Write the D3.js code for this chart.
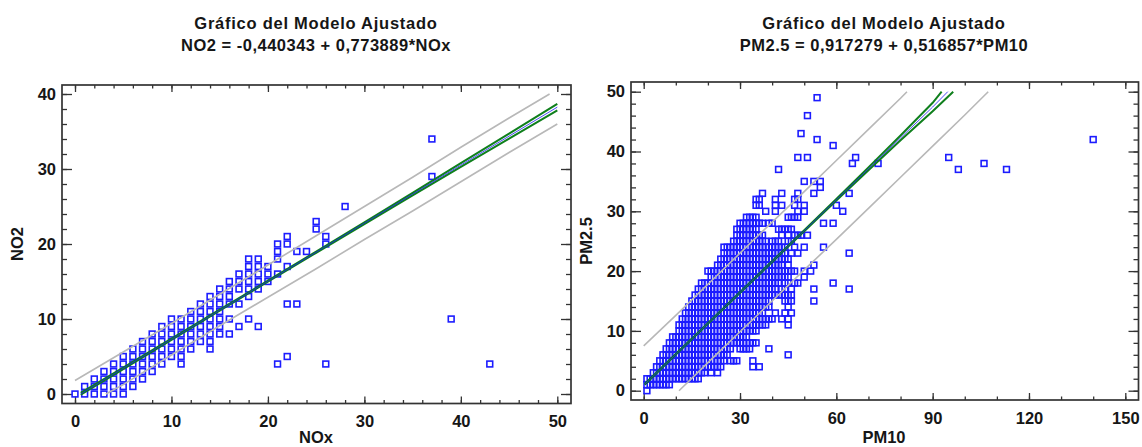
<!DOCTYPE html>
<html><head><meta charset="utf-8">
<script src="https://cdn.jsdelivr.net/npm/d3@7/dist/d3.min.js"></script>
<style>html,body{margin:0;background:#fff}svg{display:block}text{font-family:"Liberation Sans",Arial,sans-serif;font-weight:bold;fill:#161616}</style>
</head><body><svg id="c" width="1142" height="447"></svg>
<script>
const no2Title=["Gráfico del Modelo Ajustado","NO2 = -0,440343 + 0,773889*NOx"];
const pmTitle=["Gráfico del Modelo Ajustado","PM2.5 = 0,917279 + 0,516857*PM10"];

// [NOx, list of NO2 values]
const no2Columns=[[0,[0]],[1,[0,1]],[2,[0,1,2]],[3,[0,1,2,3]],[4,[0,1,2,3,4]],[5,[0,1,2,3,4,5]],
[6,[1,2,3,4,5,6]],[7,[2,3,4,5,6,7]],[8,[3,4,5,6,7,8]],[9,[4,5,6,7,8,9]],[10,[5,6,7,8,9,10]],
[11,[4,5,6,7,8,9,10]],[12,[6,7,8,9,10,11]],[13,[7,8,9,10,11,12]],[14,[6,7,8,9,10,11,12,13]],
[15,[8,9,10,11,12,13,14]],[16,[8,10,12,13,14,15]],[17,[9,12,14,15,16]],[18,[10,13,14,15,16,17,18]],
[19,[9,14,15,16,17,18]],[20,[15,16,17]],[21,[4,16,18,19,20]],[22,[5,12,17,20,21]],[23,[12,19]],[24,[19]],
[25,[22,23]],[26,[4,20,21]],[28,[25]],[37,[29,34]],[39,[10]],[43,[4]]];

const no2FitX=[0.6,5,10,15,20,25,30,35,40,45,50];
const no2Fit=[0.02,3.43,7.30,11.17,15.04,18.91,22.78,26.65,30.52,34.38,38.25];
const no2ConfHiX=no2FitX, no2ConfLoX=no2FitX;
const no2ConfHi=[0.14,3.53,7.38,11.24,15.11,18.99,22.90,26.82,30.77,34.71,38.67];
const no2ConfLo=[-0.10,3.33,7.22,11.10,14.97,18.83,22.66,26.48,30.27,34.05,37.83];
const no2PredHiX=[0,5,10,15,20,25,30,35,40,45,49.2];
const no2PredHi=[1.8,5.6,9.4,13.3,17.2,21.1,25,28.9,32.9,36.8,40];
const no2PredLoX=[3.2,5,10,15,20,25,30,35,40,45,50];
const no2PredLo=[0,1.25,5.2,9.1,12.9,16.7,20.6,24.4,28.3,32.2,36];

// [PM10, list of PM2.5 values]
const pmColumns=[[1,[0,1,2]],[2,[1,2]],[3,[1,2,3]],[4,[1,2,3,4]],[5,[1,2,3,4,5]],[6,[1,2,3,4,5,6]],
[7,[1,2,3,4,5,6,7]],[8,[1,2,3,4,5,6,7,8]],[9,[2,3,4,5,6,7,8,9]],[10,[2,3,4,5,6,7,8,9]],
[11,[2,3,4,5,6,7,8,9,10,11]],[12,[2,3,4,5,6,7,8,9,10,11,12]],[13,[2,3,4,5,6,7,8,9,10,11,12,13]],
[14,[2,3,4,5,6,7,8,9,10,11,12,13,14]],[15,[2,3,4,5,6,7,8,9,10,11,12,13,14,15]],
[16,[2,3,4,5,6,7,8,9,10,11,12,13,14,15,16]],[17,[2,3,4,5,6,7,8,9,10,11,12,13,14,15,16,17]],
[18,[3,4,5,6,7,8,9,10,11,12,13,14,15,16,17,18]],[19,[3,4,5,6,7,8,9,10,11,12,13,14,15,16,17,18]],
[20,[4,5,6,7,8,9,10,11,12,13,14,15,16,17,18,20]],[21,[3,4,5,6,7,8,9,10,11,12,13,14,15,16,17,18,19,20]],
[22,[4,5,6,7,8,9,10,11,12,13,14,15,16,17,18,19,20]],[23,[3,4,5,6,7,8,9,10,11,12,13,14,15,16,17,18,19,20,21]],
[24,[4,5,6,7,8,9,10,11,12,13,14,15,16,17,18,19,20,21,22]],
[25,[5,6,7,8,9,10,11,12,13,14,15,16,17,18,19,20,21,22,23,24]],
[26,[6,7,8,9,10,11,12,13,14,15,16,17,18,19,20,21,22,23,24]],
[27,[5,7,8,9,10,11,12,13,14,15,16,17,18,19,20,21,22,23,24]],
[28,[5,8,9,10,11,12,13,14,15,16,17,18,19,20,21,22,23,24,25]],
[29,[5,8,9,10,11,12,13,14,15,16,17,18,19,20,21,22,23,24,25,26,27]],
[30,[7,8,9,10,11,12,13,14,15,16,17,18,19,20,21,22,23,24,25,26,27,28]],
[31,[7,8,9,10,11,12,13,14,15,16,17,18,19,20,21,22,23,24,25,26,27,28]],
[32,[7,8,9,10,11,12,13,14,15,16,17,18,19,20,21,22,23,24,25,26,27,28,29]],
[33,[7,8,10,11,12,13,14,15,16,17,18,19,20,21,22,23,24,25,26,27,28,29]],
[34,[4,5,8,10,11,12,13,14,15,16,17,18,19,20,21,22,23,24,25,26,27,28,29]],
[35,[8,10,11,12,13,14,15,16,17,18,19,20,21,22,23,24,25,26,27,28,29,31,32]],
[36,[4,11,12,13,14,15,16,17,18,19,20,21,22,23,24,25,26,28,31,32]],
[37,[11,12,13,14,15,16,17,18,19,20,21,22,23,24,25,26,28,33]],
[38,[11,12,14,15,16,17,18,19,20,21,22,23,24,25,30]],
[39,[7,12,14,15,16,17,18,19,20,21,22,23,24,28]],
[40,[12,16,17,18,19,20,21,22,23,24,25,28]],
[41,[13,16,17,18,19,20,21,22,23,24,25,30,31,32]],
[42,[16,18,19,20,21,22,23,24,25,27,37]],
[43,[12,16,17,19,20,21,22,23,24,26,27,31,33]],
[44,[13,15,16,17,18,19,20,22,23,24,27]],
[45,[6,11,12,14,15,16,18,19,20,21,22,25,26,27,29]],
[46,[13,15,16,17,20,23,25,27,29]],[47,[18,20,24,26,29,31,32]],[48,[18,23,26,29,30,32,33,39]],
[49,[26,43]],[50,[19,20,24,30,31,35]],[51,[26,39,46]],[52,[20]],[53,[15,17,21,33,35]],[54,[42,49]],
[55,[34,35]],[56,[24,28]],[59,[18,28,41]],[60,[31]],[62,[30]],[64,[17,23,33]],[65,[38]],[66,[39]],
[73,[38]],[95,[39]],[98,[37]],[106,[38]],[113,[37]],[140,[42]]];

const pmFitX=[0.3,10,20,30,40,50,60,70,80,90,94.7];
const pmFit=[1.07,6.09,11.25,16.42,21.59,26.76,31.93,37.10,42.27,47.44,50];
const pmConfHiX=[0.3,10,20,30,40,50,60,70,80,90,92.8];
const pmConfHi=[1.14,6.14,11.30,16.47,21.65,26.84,32.06,37.35,42.67,48.14,50];
const pmConfLoX=[0.3,10,20,30,40,50,60,70,80,90,96.4];
const pmConfLo=[1.00,6.04,11.20,16.37,21.53,26.68,31.80,36.85,41.87,46.74,50];
const pmPredHiX=[0,10,20,30,40,50,60,70,80,82];
const pmPredHi=[7.5,12.6,17.8,23,28.2,33.3,38.5,43.7,48.9,50];
const pmPredLoX=[11,20,30,40,50,60,70,80,90,100,107.3];
const pmPredLo=[0,4.7,9.85,15,20.2,25.3,30.5,35.7,40.9,46.1,50];

const no2XTicks=[0,10,20,30,40,50], no2YTicks=[0,10,20,30,40];
const pmXTicks=[0,30,60,90,120,150], pmYTicks=[0,10,20,30,40,50];
const no2XMinor=[0,2,4,6,8,10,12,14,16,18,20,22,24,26,28,30,32,34,36,38,40,42,44,46,48,50];
const no2YMinor=[0,2,4,6,8,10,12,14,16,18,20,22,24,26,28,30,32,34,36,38,40];
const pmXMinor=[0,10,20,30,40,50,60,70,80,90,100,110,120,130,140,150];
const pmYMinor=[0,2,4,6,8,10,12,14,16,18,20,22,24,26,28,30,32,34,36,38,40,42,44,46,48,50];

const svg=d3.select("#c");
function panel(o){
  const x=d3.scaleLinear().domain(o.xd).range(o.xr), y=d3.scaleLinear().domain(o.yd).range(o.yr);
  const f=o.frame, g=svg.append("g");
  const axis=(gen,tx,ty,vals,len,labels)=>{
    const a=g.append("g").attr("transform",`translate(${tx},${ty})`)
      .call(gen.tickValues(vals).tickSizeInner(len).tickSizeOuter(0).tickPadding(labels?9:0).tickFormat(labels?d3.format("d"):""));
    a.select(".domain").remove();
    a.selectAll("line").attr("stroke","#333").attr("stroke-width",1.3);
    a.selectAll("text").attr("font-size",16.5).attr("fill","#161616");
    return a;
  };
  axis(d3.axisBottom(x),0,f.b,o.xMinor,-3.5,false);
  axis(d3.axisBottom(x),0,f.b,o.xTicks,-7,true).selectAll("text").attr("dy","0.95em").attr("y",8);
  axis(d3.axisTop(x),0,f.t,o.xMinor,-3.5,false);
  axis(d3.axisTop(x),0,f.t,o.xTicks,-7,false);
  axis(d3.axisLeft(y),f.l,0,o.yMinor,-5,false);
  axis(d3.axisLeft(y),f.l,0,o.yTicks,-10,true).selectAll("text").attr("x",-6);
  axis(d3.axisRight(y),f.r,0,o.yMinor,-5,false);
  axis(d3.axisRight(y),f.r,0,o.yTicks,-10,false);
  g.append("rect").attr("x",f.l).attr("y",f.t).attr("width",f.r-f.l).attr("height",f.b-f.t)
    .attr("fill","none").attr("stroke","#333").attr("stroke-width",1.7);
  const pts=o.cols.flatMap(([cx,ys])=>ys.map(v=>[cx,v]));
  g.append("g").selectAll("rect").data(pts).join("rect")
    .attr("x",d=>x(d[0])-2.9).attr("y",d=>y(d[1])-2.9).attr("width",5.8).attr("height",5.8)
    .attr("fill","none").attr("stroke","#1c1cff").attr("stroke-width",1.6);
  const draw=(xs,ys,col,w)=>g.append("path").datum(xs.map((v,i)=>[v,ys[i]]))
    .attr("fill","none").attr("stroke",col).attr("stroke-width",w)
    .attr("d",d3.line().x(d=>x(d[0])).y(d=>y(d[1])));
  draw(o.predHiX,o.predHi,"#b8b8b8",1.6);
  draw(o.predLoX,o.predLo,"#b8b8b8",1.6);
  draw(o.confHiX,o.confHi,"#0f7f1c",2);
  draw(o.confLoX,o.confLo,"#0f7f1c",2);
  draw(o.fitX,o.fit,"#1a1af5",o.fitW);
  o.title.forEach((t,i)=>g.append("text").attr("x",o.tx).attr("y",29+i*21.5).attr("text-anchor","middle")
    .attr("font-size",16.5).attr("letter-spacing",i?0.5:0.75).text(t));
  g.append("text").attr("x",o.lx).attr("y",443).attr("text-anchor","middle").attr("font-size",16.5).text(o.xLabel);
  g.append("text").attr("transform",`translate(${o.ylx},${o.yly}) rotate(-90)`).attr("text-anchor","middle").attr("font-size",16.5).text(o.yLabel);
}
panel({xd:[0,50],xr:[75,557.3],yd:[0,40],yr:[394,94],frame:{l:62,r:571,t:85,b:403.5},fitW:0.8,
  xTicks:no2XTicks,yTicks:no2YTicks,xMinor:no2XMinor,yMinor:no2YMinor,cols:no2Columns,
  fitX:no2FitX,fit:no2Fit,confHiX:no2ConfHiX,confHi:no2ConfHi,confLoX:no2ConfLoX,confLo:no2ConfLo,predHiX:no2PredHiX,predHi:no2PredHi,predLoX:no2PredLoX,predLo:no2PredLo,
  title:no2Title,tx:316,lx:316,xLabel:"NOx",ylx:23,yly:244,yLabel:"NO2"});
panel({xd:[0,150],xr:[643.7,1125.3],yd:[0,50],yr:[390.7,91.7],frame:{l:631,r:1138.5,t:82,b:400},fitW:0.8,
  xTicks:pmXTicks,yTicks:pmYTicks,xMinor:pmXMinor,yMinor:pmYMinor,cols:pmColumns,
  fitX:pmFitX,fit:pmFit,confHiX:pmConfHiX,confHi:pmConfHi,confLoX:pmConfLoX,confLo:pmConfLo,predHiX:pmPredHiX,predHi:pmPredHi,predLoX:pmPredLoX,predLo:pmPredLo,
  title:pmTitle,tx:884,lx:884,xLabel:"PM10",ylx:592,yly:241,yLabel:"PM2.5"});
</script></body></html>
